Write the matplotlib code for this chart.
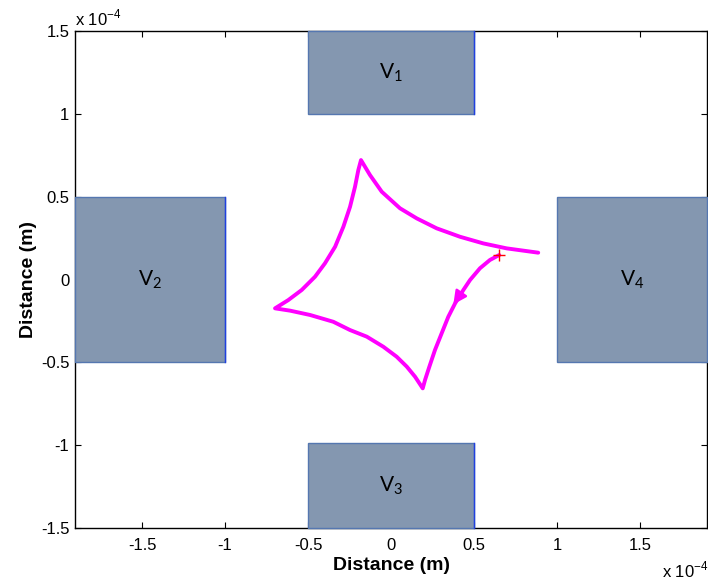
import numpy as np
import matplotlib
matplotlib.use("Agg")
import matplotlib.pyplot as plt
from matplotlib.patches import Rectangle
from matplotlib.ticker import FuncFormatter

# trajectory of the particle (units of 1e-4 m)
traj_x = [0.652, 0.596, 0.536, 0.476, 0.436, 0.386, 0.345, 0.305, 0.265, 0.231, 0.205, 0.191,
          0.145, 0.095, 0.034, -0.046, -0.146, -0.247, -0.348, -0.488, -0.608, -0.699,
          -0.619, -0.538, -0.458, -0.398, -0.337, -0.287, -0.247, -0.217, -0.197, -0.181,
          -0.127, -0.056, 0.054, 0.155, 0.275, 0.416, 0.556, 0.697, 0.887]
traj_y = [0.148, 0.118, 0.068, -0.003, -0.063, -0.144, -0.225, -0.325, -0.425, -0.526, -0.606, -0.657,
          -0.587, -0.526, -0.466, -0.406, -0.345, -0.305, -0.255, -0.214, -0.188, -0.174,
          -0.124, -0.063, 0.017, 0.098, 0.198, 0.319, 0.439, 0.560, 0.661, 0.721,
          0.631, 0.530, 0.430, 0.369, 0.309, 0.258, 0.218, 0.188, 0.162]
arrow_tip = (0.366, -0.164)

# electrodes: (x0, y0, width, height) in units of 1e-4 m
electrode_names = ["1", "2", "3", "4"]
electrode_x0 = [-0.5, -1.904, -0.5, 1.0]
electrode_y0 = [1.0, -0.5, -1.5, -0.5]
electrode_w = [1.0, 0.904, 1.0, 0.904]
electrode_h = [0.5, 1.0, 0.515, 1.0]

xticks = [-1.5, -1, -0.5, 0, 0.5, 1, 1.5]
yticks = [-1.5, -1, -0.5, 0, 0.5, 1, 1.5]

fig = plt.figure(figsize=(7.08, 5.81), dpi=100)
ax = fig.add_axes([0.106, 0.0912, 0.8926, 0.8554])

for nm, x0, y0, w, h in zip(electrode_names, electrode_x0, electrode_y0, electrode_w, electrode_h):
    ax.add_patch(Rectangle((x0, y0), w, h, facecolor="#8497b0", edgecolor="#5577b0",
                           linewidth=1.0, zorder=3, clip_on=False))
    if nm != "4":
        ax.plot([x0 + w, x0 + w], [y0, y0 + h], color="#2040e0", lw=1.0, zorder=3.5,
                clip_on=False)
    ax.text(x0 + w / 2, y0 + h / 2, r"$\mathregular{V_{%s}}$" % nm, fontsize=15,
            family="Lato", ha="center", va="center", zorder=4)

ax.plot(traj_x, traj_y, color="#ff00ff", lw=2.8, zorder=5,
        solid_joinstyle="round", solid_capstyle="round")
ax.annotate("", xy=arrow_tip, xytext=(traj_x[4], traj_y[4]),
            arrowprops=dict(arrowstyle="-|>", color="#ff00ff", lw=1.8, mutation_scale=20),
            zorder=5)
ax.plot(traj_x[0], traj_y[0], marker="+", color="red", ms=8, mew=1.0, zorder=6)

ax.set_xlim(-1.904, 1.904)
ax.set_ylim(-1.5, 1.5)
ax.set_xticks(xticks)
ax.set_yticks(yticks)
fmt = FuncFormatter(lambda v, p: "%g" % v)
ax.xaxis.set_major_formatter(fmt)
ax.yaxis.set_major_formatter(fmt)
ax.tick_params(direction="in", length=4, top=True, right=True, labelsize=12, pad=4)
ax.tick_params(axis="x", pad=7)
for lab in ax.get_xticklabels() + ax.get_yticklabels():
    lab.set_family("Liberation Sans")
for sp in ax.spines.values():
    sp.set_linewidth(1.0)

ax.set_xlabel("Distance (m)", fontsize=14, fontweight="bold", family="Liberation Sans", labelpad=3)
ax.set_ylabel("Distance (m)", fontsize=14, fontweight="bold", family="Liberation Sans", labelpad=3)

fig.text(75 / 708, 1 - 18 / 581, r"x 10$^{\mathregular{-4}}$", fontsize=12,
         family="Liberation Sans", ha="left", va="center")
fig.text(662 / 708, 1 - 570 / 581, r"x 10$^{\mathregular{-4}}$", fontsize=12,
         family="Liberation Sans", ha="left", va="center")

fig.savefig("out.png", dpi=100)
